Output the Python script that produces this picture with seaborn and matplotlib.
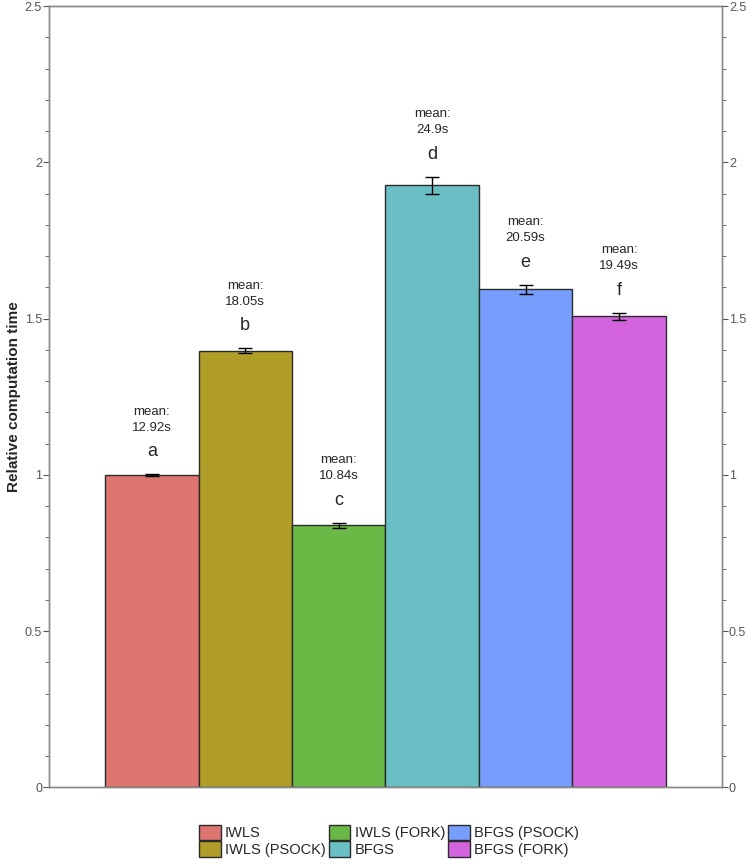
import matplotlib
matplotlib.use("Agg")
import matplotlib.pyplot as plt
import matplotlib.patches as mpatches
from matplotlib.ticker import MultipleLocator
import seaborn as sns

# data
methods = ["IWLS", "IWLS (PSOCK)", "IWLS (FORK)", "BFGS", "BFGS (PSOCK)", "BFGS (FORK)"]
rel_time = [1.0, 1.397, 0.839, 1.927, 1.594, 1.508]
rel_err = [0.002, 0.008, 0.008, 0.027, 0.014, 0.011]
letters = ["a", "b", "c", "d", "e", "f"]
mean_sec = ["12.92s", "18.05s", "10.84s", "24.9s", "20.59s", "19.49s"]
colors = ["#DE7570", "#B09E28", "#6AB947", "#6ABFC4", "#779EFC", "#D464DD"]
yticks = [0, 0.5, 1, 1.5, 2, 2.5]
ytick_labels = ["0", "0.5", "1", "1.5", "2", "2.5"]

sns.set_style("white")
plt.rcParams["font.family"] = ["Liberation Sans", "DejaVu Sans"]

fig = plt.figure(figsize=(7.48, 8.65), dpi=100)
ax = fig.add_axes([0.0655, 0.0896, 0.8997, 0.9034])

sns.barplot(x=methods, y=rel_time, hue=methods, palette=colors, width=1.0,
            edgecolor="#2b2b2b", linewidth=1.0, legend=False, ax=ax,
            saturation=1)
ax.errorbar(range(len(methods)), rel_time, yerr=rel_err, fmt="none",
            ecolor="black", elinewidth=1, capsize=5, capthick=1)

for i, v in enumerate(rel_time):
    top = v + rel_err[i]
    ax.text(i, top + 0.045, letters[i], ha="center", va="bottom", fontsize=13)
    ax.text(i, top + 0.13, "mean:\n" + mean_sec[i], ha="center", va="bottom",
            fontsize=9.5, linespacing=1.45)

ax.set_xlim(-1.1, 6.1)
ax.set_xticks([])
ax.set_xlabel("")


def style_y(a, left):
    a.set_ylim(0, 2.5)
    a.set_yticks(yticks)
    a.set_yticklabels(ytick_labels)
    a.yaxis.set_minor_locator(MultipleLocator(0.1))
    a.tick_params(axis="y", which="both", direction="out", left=left,
                  right=not left, color="#555555", labelcolor="#555555",
                  labelsize=9, pad=1)
    a.tick_params(axis="y", which="major", length=4)
    a.tick_params(axis="y", which="minor", length=3)
    for s in a.spines.values():
        s.set_color("#888888")
        s.set_linewidth(1)


style_y(ax, True)
ax.set_ylabel("Relative computation time", fontsize=11, fontweight="bold")
ax.yaxis.set_label_coords(-0.042, 0.5)

ax2 = ax.twinx()
style_y(ax2, False)

handles = [mpatches.Patch(facecolor=c, edgecolor="#2b2b2b", label=m)
           for m, c in zip(methods, colors)]
fig.legend(handles=handles, ncol=3, loc="lower center",
           bbox_to_anchor=(0.52, -0.006), frameon=False, fontsize=10.5,
           handlelength=1.5, handleheight=1.3, handletextpad=0.3,
           columnspacing=0.2, labelspacing=0.05)

fig.savefig("out.png", dpi=100)
